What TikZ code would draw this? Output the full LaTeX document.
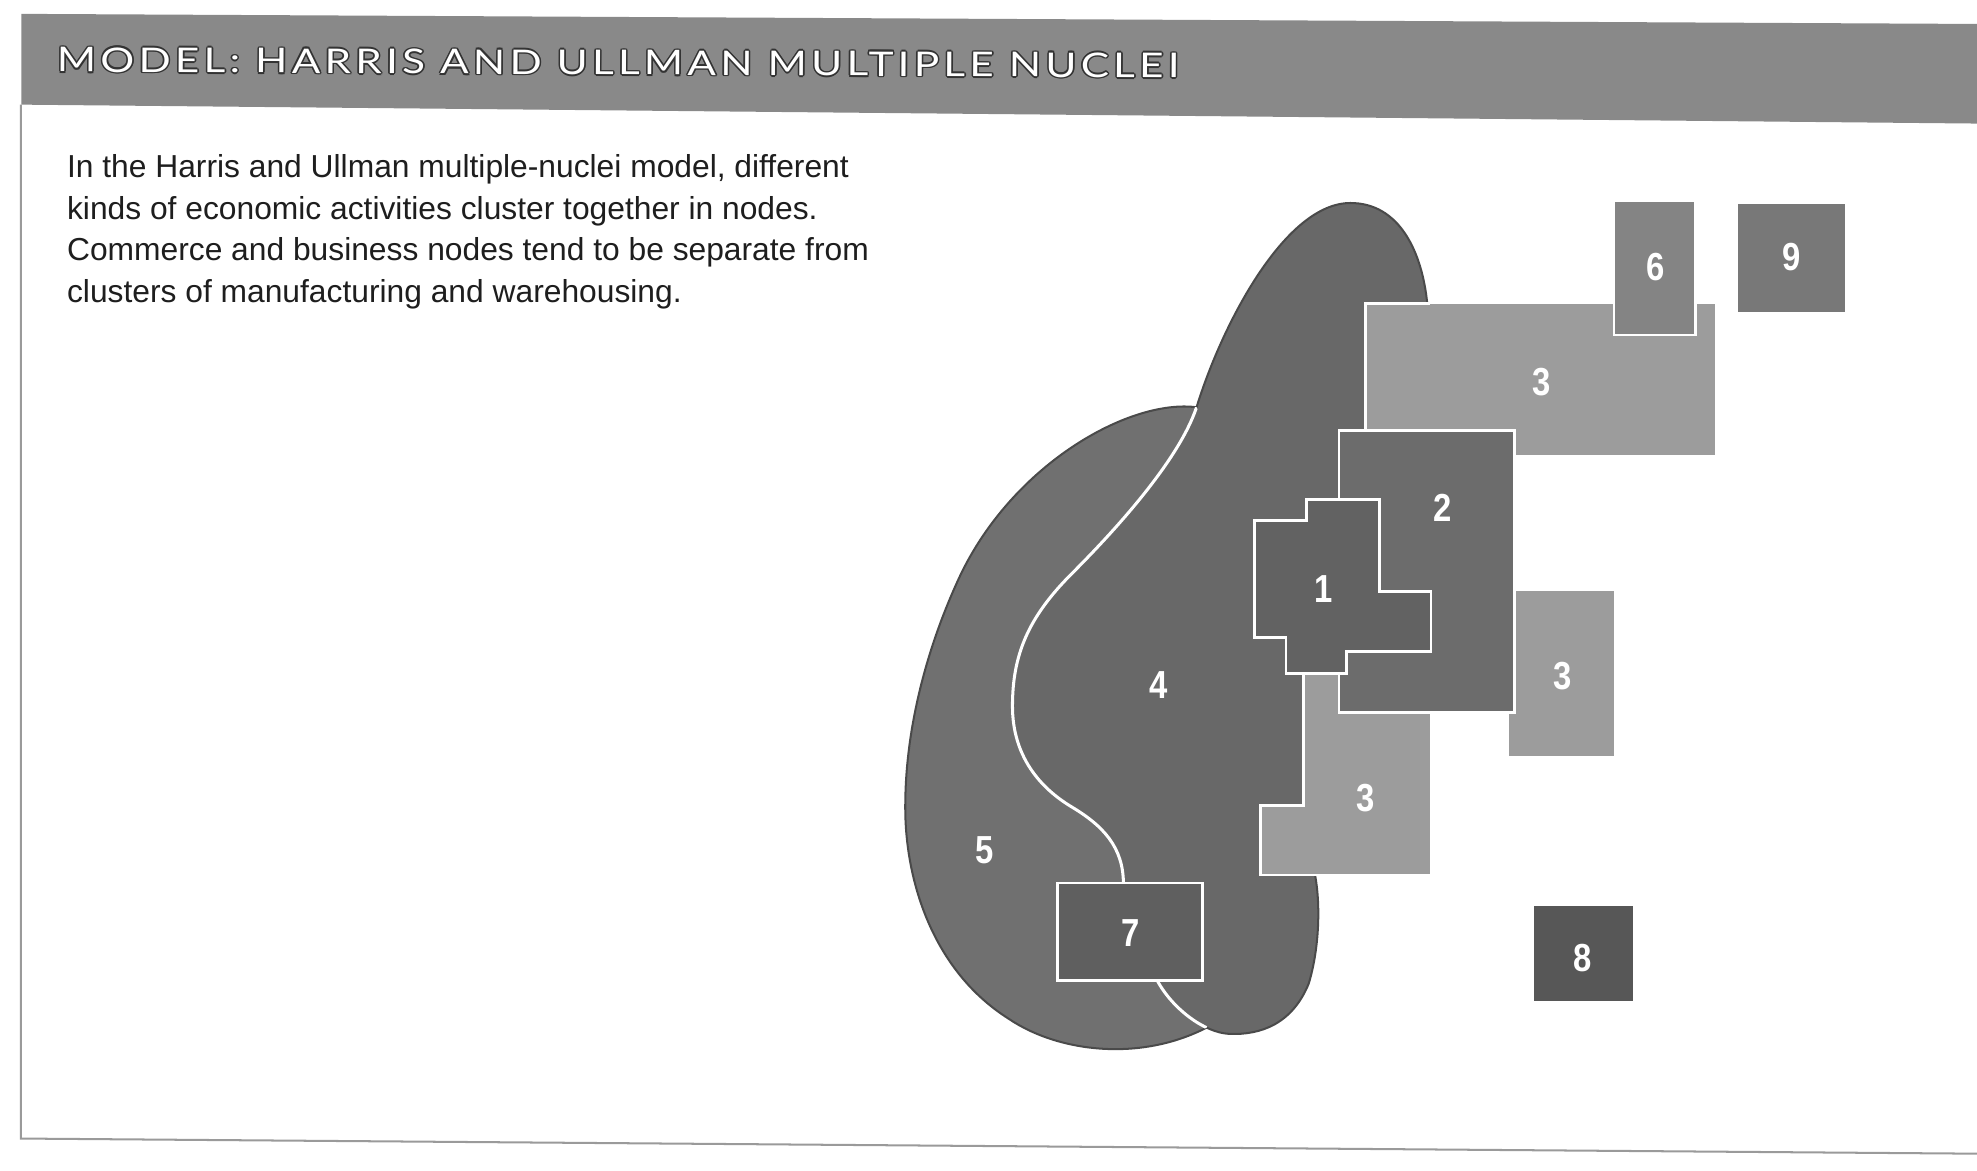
\documentclass[tikz,border=0pt]{standalone}
\usepackage{fontspec}
\usepackage{graphicx}
\newfontfamily\bodyfont{Liberation Sans}
\newfontfamily\lblfont{Liberation Sans}
\newfontfamily\titlefont{Lato}[LetterSpace=10.0]
\definecolor{hdr}{HTML}{898989}
\definecolor{halo}{HTML}{333333}
\definecolor{outl}{HTML}{4A4A4A}
\definecolor{cfive}{HTML}{707070}
\definecolor{cfour}{HTML}{686868}
\definecolor{cone}{HTML}{626262}
\definecolor{ctwo}{HTML}{6C6C6C}
\definecolor{cthree}{HTML}{9C9C9C}
\definecolor{csix}{HTML}{848484}
\definecolor{cseven}{HTML}{5F5F5F}
\definecolor{ceight}{HTML}{575757}
\definecolor{cnine}{HTML}{787878}
\definecolor{frame}{HTML}{9A9A9A}
\definecolor{ink}{HTML}{1E1E1E}
\newcommand\titlestr{\resizebox{890pt}{\height}{\titlefont\fontsize{27}{27}\selectfont MODEL: HARRIS AND ULLMAN MULTIPLE NUCLEI}}
\newcommand\regfivepath{(949,323) .. controls (895,316) and (800,370) .. (759,462) .. controls (735,515) and (717,580) .. (718,645) .. controls (719,700) and (740,770) .. (800,808) .. controls (840,835) and (905,842) .. (957,815) -- (1000,700) -- (1000,420) -- cycle}
\newcommand\regfourpath{(949,323) .. controls (970,255) and (1020,161) .. (1071,161) .. controls (1110,161) and (1128,200) .. (1132,241) -- (1125,300) -- (1100,450) -- (1060,640) -- (1043,694) .. controls (1047,715) and (1047,750) .. (1038,780) .. controls (1025,812) and (1000,821) .. (975,820) .. controls (955,819) and (930,800) .. (918,778) -- (891,701) .. controls (891,672) and (875,655) .. (850,640) .. controls (825,625) and (803,600) .. (803,560) .. controls (803,520) and (815,490) .. (850,455) .. controls (885,420) and (935,365) .. cycle}
\tikzset{
  wbox/.style={draw=white, line width=2.2, line join=miter},
  lbl/.style={text=white, font=\lblfont\bfseries\fontsize{31}{31}\selectfont, xscale=0.84, inner sep=0pt},
  para/.style={anchor=base west, inner sep=0pt, text=ink, font=\bodyfont\fontsize{25.2}{30}\selectfont},
  ttl/.style={anchor=base west, inner sep=0pt, rotate=-0.3},
}
\begin{document}
\begin{tikzpicture}[x=1pt, y=-1pt]
\useasboundingbox (0,0) rectangle (1568,928);
\fill[white] (0,0) rectangle (1568,928);
% frame
\draw[frame, line width=1.6] (16.5,83) -- (16.5,903) -- (1568,915);
% header bar
\fill[hdr] (17,11) -- (1568,19) -- (1568,98) -- (17,83) -- cycle;
\foreach \dx/\dy [count=\k] in {-1.3/0, 1.3/0, 0/-1.3, 0/1.3, -0.9/-0.9, 0.9/0.9, -0.9/0.9, 0.9/-0.9}
  \node[ttl, text=halo] (tsh\k) at (45+\dx,57+\dy) {\titlestr};
\node[ttl, text=white] (title) at (45,57) {\titlestr};
% paragraph
\node[para] (p1) at (53,141) {In the Harris and Ullman multiple-nuclei model, different};
\node[para] (p2) at (53,174) {kinds of economic activities cluster together in nodes.};
\node[para] (p3) at (53,207) {Commerce and business nodes tend to be separate from};
\node[para] (p4) at (53,240) {clusters of manufacturing and warehousing.};
% regions 5 and 4
\filldraw[fill=cfive, draw=outl, line width=1.6] \regfivepath;
\filldraw[fill=cfour, draw=outl, line width=1.6] \regfourpath;
\begin{scope}
  \clip \regfivepath;
  \draw[white, line width=2.4] \regfourpath;
\end{scope}
% rectangles
\fill[cthree] (1083,241) rectangle (1360,361);
\draw[white, line width=2.2] (1083,361) -- (1083,241) -- (1134,241);
\filldraw[fill=csix, wbox] (1280,159.5) rectangle (1345,265.7);
\fill[cnine] (1378.5,161.6) rectangle (1463.5,247.5);
\fill[cthree] (1196.5,469) rectangle (1280,599.6);
\filldraw[fill=cthree, wbox] (1033.6,520) -- (1135,520) -- (1135,694) -- (1000,694) -- (1000,639) -- (1033.6,639) -- cycle;
\filldraw[fill=ctwo, wbox] (1062,341.6) rectangle (1201,565);
\filldraw[fill=cone, wbox] (1036,396) -- (1094,396) -- (1094,469) -- (1135,469) -- (1135,517) -- (1068,517) -- (1068,534.4) -- (1020,534.4) -- (1020,505.5) -- (995,505.5) -- (995,413) -- (1036,413) -- cycle;
\filldraw[fill=cseven, wbox] (839,700.4) rectangle (954,777.8);
\fill[ceight] (1216.5,718.6) rectangle (1295,794);
% labels
\node[lbl] (l1) at (1050,467) {1};
\node[lbl] (l2) at (1144,403) {2};
\node[lbl] (l3a) at (1223,303) {3};
\node[lbl] (l3b) at (1239,536) {3};
\node[lbl] (l3c) at (1083,633) {3};
\node[lbl] (l4) at (919,543) {4};
\node[lbl] (l5) at (781,674) {5};
\node[lbl] (l6) at (1313,212) {6};
\node[lbl] (l7) at (897,740) {7};
\node[lbl] (l8) at (1255,760) {8};
\node[lbl] (l9) at (1421,204) {9};
\end{tikzpicture}
\end{document}
